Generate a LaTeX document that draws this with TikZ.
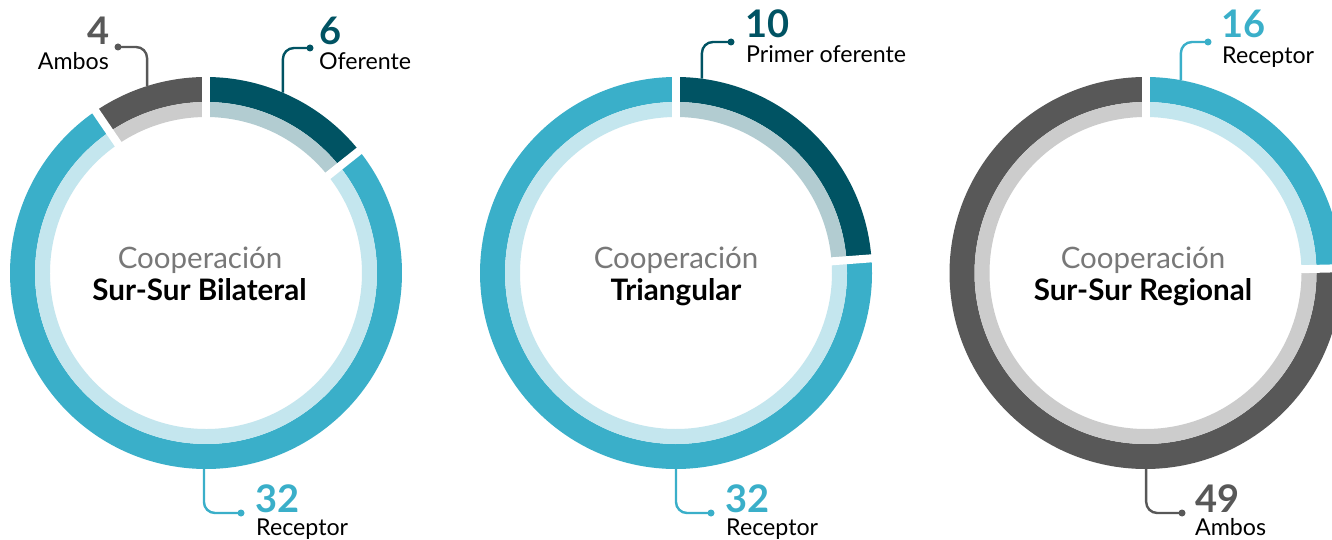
\documentclass[tikz,border=0pt]{standalone}
\usepackage{fontspec}
\setmainfont{Lato}
\usetikzlibrary{calc}
\definecolor{cTeal}{HTML}{005363}
\definecolor{cTealL}{HTML}{B2CCD1}
\definecolor{cBlue}{HTML}{3AAFC9}
\definecolor{cBlueL}{HTML}{C4E6EE}
\definecolor{cGray}{HTML}{585858}
\definecolor{cGrayL}{HTML}{CCCCCC}
\definecolor{cCoop}{HTML}{787878}
\newcommand\ringseg[4]{%
  \fill[#3] (#1:196pt) arc[start angle=#1,end angle=#2,radius=196pt] -- (#2:171pt) arc[start angle=#2,end angle=#1,radius=171pt] -- cycle;
  \fill[#4] (#1:171pt) arc[start angle=#1,end angle=#2,radius=171pt] -- (#2:156pt) arc[start angle=#2,end angle=#1,radius=156pt] -- cycle;}
\newcommand\ringgap[1]{\draw[white,line width=8pt] (#1:150pt) -- (#1:202pt);}
\tikzset{
  dot/.style={circle,fill,inner sep=0pt,minimum size=7pt},
  conn/.style={line width=2.4pt,rounded corners=11pt},
  num/.style={inner sep=0pt,font=\fontsize{38}{42}\selectfont\bfseries},
  lab/.style={inner sep=0pt,text=black,font=\fontsize{23.2}{27}\selectfont},
  coop/.style={inner sep=0pt,text=cCoop,anchor=base,font=\fontsize{29.5}{33}\selectfont},
  title/.style={inner sep=0pt,text=black,anchor=base,font=\fontsize{29.6}{33}\selectfont\bfseries}
}
\begin{document}
\begin{tikzpicture}[x=1pt,y=1pt]
\useasboundingbox (0,0) rectangle (1332,-540);
\clip (0,0) rectangle (1332,-540);
\fill[white] (0,0) rectangle (1332,-540);
\coordinate (C1) at (206,-273);
\coordinate (C2) at (676,-273);
\coordinate (C3) at (1145.5,-273);
% chart 1: oferente 6, receptor 32, ambos 4
\begin{scope}[shift={(C1)}]
  \ringseg{90}{38.57}{cTeal}{cTealL}
  \ringseg{38.57}{-235.71}{cBlue}{cBlueL}
  \ringseg{124.29}{90}{cGray}{cGrayL}
  \ringgap{90}\ringgap{38.57}\ringgap{124.29}
  \coordinate (p1a) at (107.5:196pt);
  \coordinate (p1o) at (66.9:196pt);
  \coordinate (p1r) at (-90.6:196pt);
\end{scope}
% chart 2: primer oferente 10, receptor 32
\begin{scope}[shift={(C2)}]
  \ringseg{90}{4.29}{cTeal}{cTealL}
  \ringseg{4.29}{-270}{cBlue}{cBlueL}
  \ringgap{90}\ringgap{4.29}
  \coordinate (p2o) at (82.4:196pt);
  \coordinate (p2r) at (-90:196pt);
\end{scope}
% chart 3: receptor 16, ambos 49
\begin{scope}[shift={(C3)}]
  \ringseg{90}{1.4}{cBlue}{cBlueL}
  \ringseg{1.4}{-270}{cGray}{cGrayL}
  \ringgap{90}\ringgap{1.4}
  \coordinate (p3r) at (79.6:196pt);
  \coordinate (p3a) at (-89.8:196pt);
\end{scope}
% center texts
\node[coop] (t1a) at (200,-268) {Cooperación};
\node[title] (t1b) at (199.5,-300) {Sur-Sur Bilateral};
\node[coop] (t2a) at (676,-268) {Cooperación};
\node[title] (t2b) at (676,-300) {Triangular};
\node[coop] (t3a) at (1143,-268) {Cooperación};
\node[title] (t3b) at (1143,-300) {Sur-Sur Regional};
% dots
\node[dot,cGray] (d1a) at (118,-47) {};
\node[dot,cTeal] (d1o) at (310,-48) {};
\node[dot,cBlue] (d1r) at (241,-513) {};
\node[dot,cTeal] (d2o) at (731,-42) {};
\node[dot,cBlue] (d2r) at (711,-513) {};
\node[dot,cBlue] (d3r) at (1208,-42) {};
\node[dot,cGray] (d3a) at (1182,-513) {};
% connectors
\draw[conn,cGray] (p1a) |- (d1a.center);
\draw[conn,cTeal] (p1o) |- (d1o.center);
\draw[conn,cBlue] (p1r) |- (d1r.center);
\draw[conn,cTeal] (p2o) |- (d2o.center);
\draw[conn,cBlue] (p2r) |- (d2r.center);
\draw[conn,cBlue] (p3r) |- (d3r.center);
\draw[conn,cGray] (p3a) |- (d3a.center);
% labels chart 1
\node[num,text=cGray,anchor=base east] (n1a) at (110,-45) {4};
\node[lab,anchor=base east] (l1a) at (109,-70) {Ambos};
\node[num,text=cTeal,anchor=base west] (n1o) at (319,-45) {6};
\node[lab,anchor=base west] (l1o) at (319,-70) {Oferente};
\node[num,text=cBlue,anchor=base west] (n1r) at (255,-512) {32};
\node[lab,anchor=base west] (l1r) at (256,-535) {Receptor};
% labels chart 2
\node[num,text=cTeal,anchor=base west] (n2o) at (745,-38) {10};
\node[lab,anchor=base west] (l2o) at (746,-63) {Primer oferente};
\node[num,text=cBlue,anchor=base west] (n2r) at (725,-512) {32};
\node[lab,anchor=base west] (l2r) at (726,-535) {Receptor};
% labels chart 3
\node[num,text=cBlue,anchor=base west] (n3r) at (1221,-38) {16};
\node[lab,anchor=base west] (l3r) at (1222,-64) {Receptor};
\node[num,text=cGray,anchor=base west] (n3a) at (1195,-512) {49};
\node[lab,anchor=base west] (l3a) at (1195,-535) {Ambos};
\end{tikzpicture}
\end{document}
